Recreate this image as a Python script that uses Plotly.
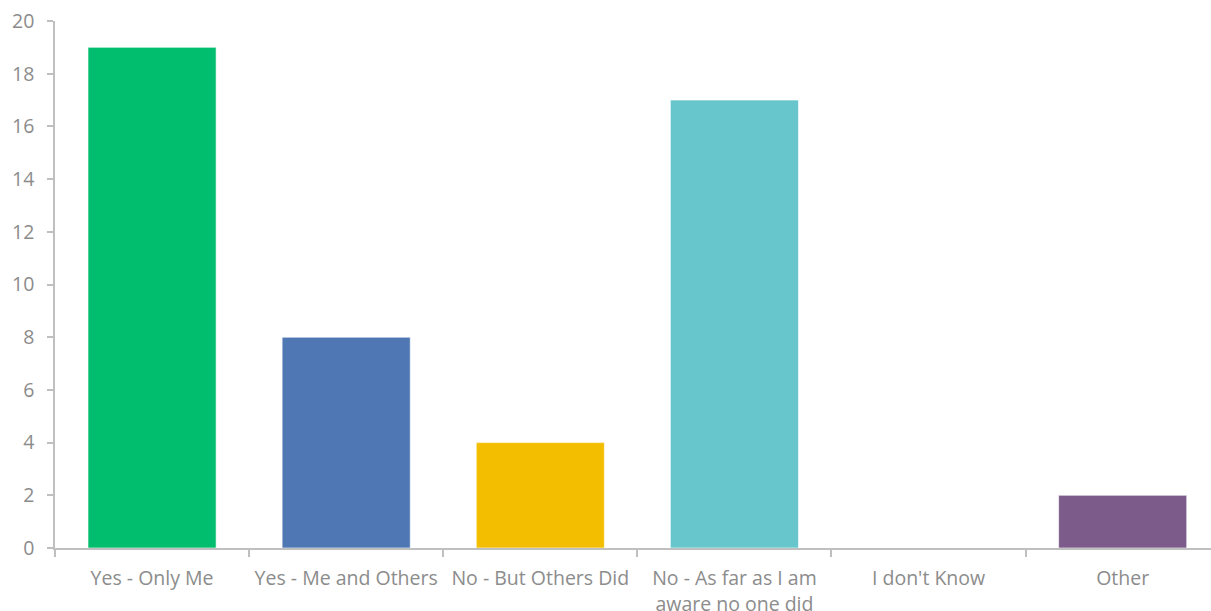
import plotly.graph_objects as go

categories = [
    "Yes - Only Me",
    "Yes - Me and Others",
    "No - But Others Did",
    "No - As far as I am<br>aware no one did",
    "I don't Know",
    "Other",
]
counts = [19, 8, 4, 17, 0, 2]
bar_colors = ["#00BE6E", "#4E77B3", "#F3BE00", "#67C6CC", "#A5A5A5", "#7C5A8A"]
y_ticks = [0, 2, 4, 6, 8, 10, 12, 14, 16, 18, 20]

axis_grey = "#BFBFBF"
label_grey = "#8C8C8C"

fig = go.Figure(
    go.Bar(
        x=categories,
        y=counts,
        marker=dict(color=bar_colors, line=dict(color="rgba(255,255,255,0.6)", width=1)),
        width=0.66,
        hoverinfo="x+y",
    )
)

fig.update_layout(
    width=1211,
    height=611,
    margin=dict(l=55, r=0, t=21, b=63),
    paper_bgcolor="white",
    plot_bgcolor="white",
    showlegend=False,
    font=dict(family="Open Sans, Lato, sans-serif", color=label_grey, size=19),
)

fig.update_xaxes(
    type="category",
    range=[-0.5, 5.455],
    automargin=False,
    showline=True,
    linecolor=axis_grey,
    linewidth=1.5,
    ticks="outside",
    tickson="boundaries",
    ticklen=7,
    tickcolor=axis_grey,
    tickwidth=1.5,
    showgrid=False,
    tickfont=dict(size=19.5, color=label_grey),
    ticklabelstandoff=12,
)

fig.update_yaxes(
    range=[0, 20],
    tickvals=y_ticks,
    automargin=False,
    showline=True,
    linecolor=axis_grey,
    linewidth=1.5,
    ticks="outside",
    ticklen=6,
    tickcolor=axis_grey,
    tickwidth=1.5,
    showgrid=False,
    zeroline=False,
    tickfont=dict(size=19.5, color=label_grey),
    ticklabelstandoff=9,
)

fig.write_html("out.html")
